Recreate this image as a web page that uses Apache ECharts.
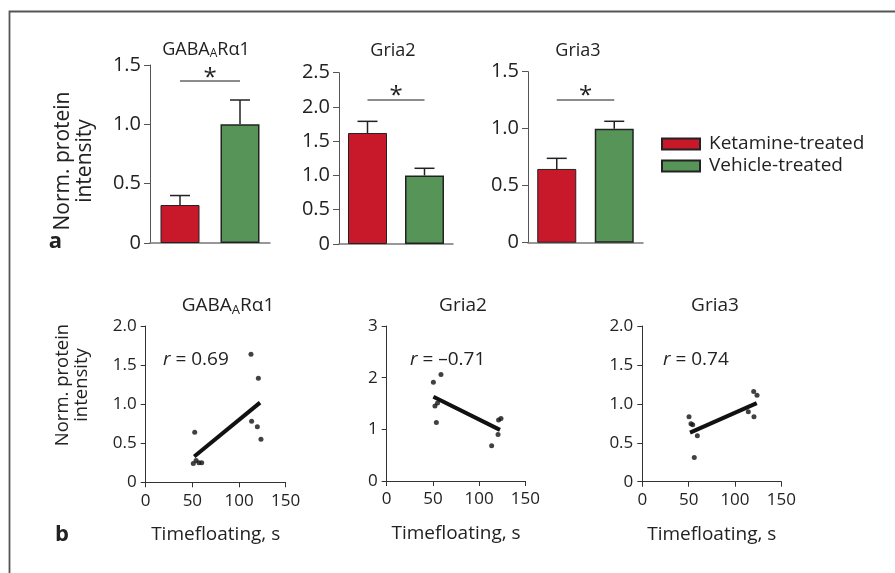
<!DOCTYPE html>
<html>
<head>
<meta charset="utf-8">
<script src="https://cdn.jsdelivr.net/npm/echarts@6/dist/echarts.min.js"></script>
<style>
  html, body { margin: 0; padding: 0; background: #fff; }
  #chart { width: 895px; height: 573px; }
</style>
</head>
<body>
<div id="chart"></div>
<script>
// groups / proteins
var groups = ['Ketamine-treated', 'Vehicle-treated'];
var groupColors = ['#c8192b', '#569557'];

// panel a: bar means and upper error values (Ketamine, Vehicle)
var gabaMean = [0.32, 1.0], gabaUpper = [0.40, 1.205];
var gria2Mean = [1.62, 1.0], gria2Upper = [1.79, 1.105];
var gria3Mean = [0.647, 1.0], gria3Upper = [0.74, 1.065];
var barMax = [1.5, 2.5, 1.5];
var sigLevel = [1.365, 2.11, 1.258];

// panel b: time floating (s) vs norm. protein intensity
var gabaPoints = [[112.8, 1.64], [120.7, 1.33], [113.5, 0.78], [119.6, 0.71], [123.5, 0.55],
  [52.5, 0.64], [51, 0.24], [54, 0.28], [57, 0.25], [60, 0.25]];
var gabaFit = [[52, 0.33], [122.5, 1.02]];
var gria2Points = [[50.5, 1.91], [58.7, 2.06], [52.2, 1.45], [55, 1.51], [53.7, 1.13],
  [113.5, 0.68], [120.4, 0.9], [121, 1.18], [123.6, 1.21]];
var gria2Fit = [[50.5, 1.63], [122.5, 0.99]];
var gria3Points = [[50.4, 0.835], [52.5, 0.745], [54.4, 0.73], [59.4, 0.59], [56.1, 0.31],
  [114.4, 0.9], [120.5, 0.835], [120.2, 1.16], [123.8, 1.11]];
var gria3Fit = [[51.5, 0.63], [123.5, 1.01]];
var rValues = ['0.69', '\u20130.71', '0.74'];
var scatterMax = [2, 3, 2], scatterInterval = [0.5, 1, 0.5];
var xTicks = [0, 150, 50];

var FONT = 'Open Sans';
var INK = '#222';

var barMeans = [gabaMean, gria2Mean, gria3Mean];
var barUppers = [gabaUpper, gria2Upper, gria3Upper];
var points = [gabaPoints, gria2Points, gria3Points];
var fits = [gabaFit, gria2Fit, gria3Fit];

var topGrids = [
  { left: 150, top: 65, width: 120, height: 178 },
  { left: 339, top: 72.7, width: 114, height: 171.3 },
  { left: 528, top: 71.7, width: 115, height: 171 }
];
var botGrids = [
  { left: 145.7, top: 326, width: 140, height: 156.3 },
  { left: 386.7, top: 326, width: 138.7, height: 155 },
  { left: 642.3, top: 326, width: 139, height: 155.7 }
];

function fmt1(v) { return v === 0 ? '0' : v.toFixed(1); }

var grid = [], xAxis = [], yAxis = [], series = [];

topGrids.forEach(function (g, i) {
  g.outerBoundsMode = 'none';
  grid.push(g);
  xAxis.push({
    type: 'category', gridIndex: i, data: groups,
    axisLine: { lineStyle: { color: '#777', width: 1.5 } },
    axisTick: { show: false }, axisLabel: { show: false }
  });
  yAxis.push({
    type: 'value', gridIndex: i, min: 0, max: barMax[i], interval: 0.5,
    axisLine: { show: true, lineStyle: { color: '#555', width: 1 } },
    axisTick: { show: true, length: 6, lineStyle: { color: '#555' } },
    splitLine: { show: false },
    axisLabel: { formatter: fmt1, color: INK, fontSize: 20, fontFamily: FONT, margin: 9 }
  });
  groups.forEach(function (name, k) {
    var d = ['-', '-'];
    d[k] = barMeans[i][k];
    var s = {
      name: name, type: 'bar', xAxisIndex: i, yAxisIndex: i, data: d,
      barWidth: 39, barGap: '-100%',
      itemStyle: { color: groupColors[k], borderColor: '#222', borderWidth: k ? 1.5 : 1 }
    };
    if (k === 1) {
      s.markLine = {
        silent: true, symbol: 'none',
        lineStyle: { color: '#666', width: 1.5, type: 'solid' },
        label: { formatter: '*', position: 'middle', fontSize: 24, color: INK, fontFamily: FONT, distance: -9 },
        data: [[{ coord: [0, sigLevel[i]] }, { coord: [1, sigLevel[i]] }]]
      };
    }
    series.push(s);
  });
  series.push({
    type: 'custom', xAxisIndex: i, yAxisIndex: i, z: 1,
    data: groups.map(function (n, k) { return [k, barMeans[i][k], barUppers[i][k]]; }),
    renderItem: function (params, api) {
      var p0 = api.coord([api.value(0), api.value(1)]);
      var p1 = api.coord([api.value(0), api.value(2)]);
      var st = { stroke: '#222', lineWidth: 1.5 };
      return {
        type: 'group', children: [
          { type: 'line', shape: { x1: p0[0], y1: p0[1], x2: p1[0], y2: p1[1] }, style: st },
          { type: 'line', shape: { x1: p1[0] - 10, y1: p1[1], x2: p1[0] + 10, y2: p1[1] }, style: st }
        ]
      };
    }
  });
});

botGrids.forEach(function (g, j) {
  var i = j + 3;
  g.outerBoundsMode = 'none';
  grid.push(g);
  xAxis.push({
    type: 'value', gridIndex: i, min: xTicks[0], max: xTicks[1], interval: xTicks[2],
    name: 'Timefloating, s', nameLocation: 'middle', nameGap: 43,
    nameTextStyle: { color: INK, fontSize: 19, fontFamily: FONT },
    axisLine: { lineStyle: { color: '#333', width: 1 } },
    axisTick: { show: true, length: 5, lineStyle: { color: '#333' } },
    splitLine: { show: false },
    axisLabel: { color: INK, fontSize: 17, fontFamily: FONT, margin: 10 }
  });
  yAxis.push({
    type: 'value', gridIndex: i, min: 0, max: scatterMax[j], interval: scatterInterval[j],
    axisLine: { show: true, lineStyle: { color: '#333', width: 1 } },
    axisTick: { show: true, length: 5, lineStyle: { color: '#333' } },
    splitLine: { show: false },
    axisLabel: {
      formatter: scatterInterval[j] === 1 ? function (v) { return String(v); } : fmt1,
      color: INK, fontSize: 17, fontFamily: FONT, margin: 9
    }
  });
  series.push({
    type: 'scatter', xAxisIndex: i, yAxisIndex: i, data: points[j],
    symbolSize: 5, itemStyle: { color: '#111' }
  });
  series.push({
    type: 'line', xAxisIndex: i, yAxisIndex: i, data: fits[j],
    symbol: 'none', lineStyle: { color: '#111', width: 4 }
  });
});

function titleText(x, y, txt, size) {
  var sub = Math.round(size * 0.68);
  return {
    type: 'text', x: x, y: y, silent: true,
    style: {
      text: txt, align: 'center', verticalAlign: 'middle', fill: INK, fontFamily: FONT, fontSize: size,
      rich: { m: { fontSize: size, fontFamily: FONT, fill: INK }, s: { fontSize: sub, fontFamily: FONT, fill: INK, padding: [8, 0, 0, 0] } }
    }
  };
}
var gabaTitle = '{m|GABA}{s|A}{m|R\u03b11}';

function rText(x, y, v) {
  return {
    type: 'text', x: x, y: y, silent: true,
    style: {
      text: '{i|r} = ' + v, align: 'left', verticalAlign: 'middle', fill: INK, fontFamily: FONT, fontSize: 19,
      rich: { i: { fontStyle: 'italic', fontSize: 19, fontFamily: FONT, fill: INK } }
    }
  };
}

function yName(x, y, size) {
  return {
    type: 'text', x: x, y: y, rotation: Math.PI / 2, silent: true,
    style: {
      text: 'Norm. protein\nintensity', align: 'center', verticalAlign: 'middle',
      fill: INK, fontFamily: FONT, fontSize: size, lineHeight: size * 1.05
    }
  };
}

var graphic = [
  { type: 'polyline', silent: true, shape: { points: [[9.5, 573], [9.5, 11.5], [895, 11.5]] }, style: { stroke: '#555', lineWidth: 1.8, fill: null } },
  titleText(206, 50, gabaTitle, 18),
  titleText(393, 51, 'Gria2', 18),
  titleText(578, 51, 'Gria3', 18),
  titleText(228, 306, gabaTitle, 19),
  titleText(463, 306, 'Gria2', 19),
  titleText(715, 306, 'Gria3', 19),
  rText(163, 360, rValues[0]),
  rText(410, 360, rValues[1]),
  rText(663, 360, rValues[2]),
  yName(74, 161, 21),
  yName(72, 385, 18.5),
  { type: 'text', x: 55.5, y: 242, silent: true, style: { text: 'a', align: 'center', verticalAlign: 'middle', fill: INK, fontFamily: FONT, fontWeight: 'bold', fontSize: 22 } },
  { type: 'text', x: 62, y: 535, silent: true, style: { text: 'b', align: 'center', verticalAlign: 'middle', fill: INK, fontFamily: FONT, fontWeight: 'bold', fontSize: 22 } }
];

var option = {
  animation: false,
  backgroundColor: '#fff',
  textStyle: { fontFamily: FONT },
  legend: {
    data: groups, orient: 'vertical', left: 656, top: 129,
    icon: 'rect', itemWidth: 38, itemHeight: 11, itemGap: 2,
    textStyle: { color: INK, fontSize: 19, fontFamily: FONT, lineHeight: 20, padding: [0, 0, 0, 4] },
    selectedMode: false
  },
  grid: grid, xAxis: xAxis, yAxis: yAxis, series: series, graphic: graphic
};

var myChart = echarts.init(document.getElementById('chart'));
myChart.setOption(option);
</script>
</body>
</html>
